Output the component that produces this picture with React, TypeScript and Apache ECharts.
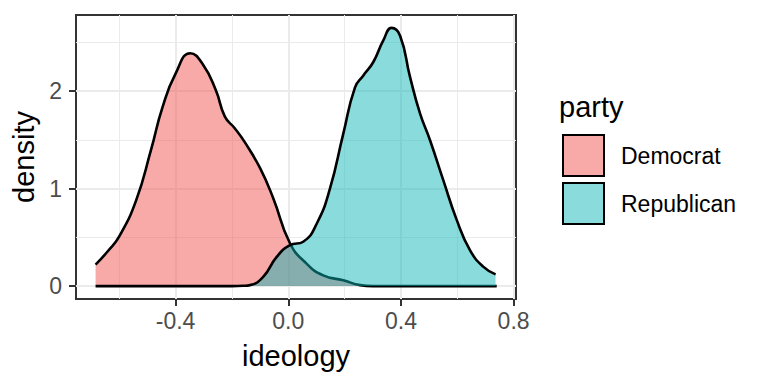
import React, { useEffect, useRef } from "react";
import * as echarts from "echarts";

// Democrat density curve (ideology, density)
const demX = [-0.684, -0.64, -0.6, -0.54, -0.487, -0.446, -0.4, -0.348, -0.304, -0.257, -0.225, -0.19, -0.155, -0.1, -0.053, 0.006, 0.065, 0.124, 0.195, 0.255, 0.3, 0.74];
const demY = [0.22, 0.36, 0.51, 0.88, 1.4, 1.84, 2.18, 2.39, 2.28, 2.01, 1.74, 1.62, 1.48, 1.21, 0.9, 0.44, 0.23, 0.11, 0.06, 0.01, 0.0, 0.0];

// Republican density curve
const repX = [-0.684, -0.2, -0.16, -0.136, -0.089, -0.041, 0.006, 0.053, 0.101, 0.148, 0.195, 0.237, 0.266, 0.302, 0.337, 0.367, 0.397, 0.432, 0.468, 0.503, 0.55, 0.598, 0.645, 0.692, 0.736];
const repY = [0.0, 0.0, 0.003, 0.01, 0.095, 0.3, 0.42, 0.455, 0.64, 1.0, 1.56, 2.04, 2.16, 2.3, 2.52, 2.65, 2.57, 2.15, 1.77, 1.5, 1.09, 0.68, 0.37, 0.2, 0.12];

const parties = ["Democrat", "Republican"];
const xMajor = [-0.4, 0, 0.4, 0.8];
const xMinor = [-0.6, -0.2, 0.2, 0.6];
const yMajor = [0, 1, 2];
const yMinor = [0.5, 1.5, 2.5];

const FONT = "'Liberation Sans', Arial, Helvetica, sans-serif";
const demFill = "rgba(240,92,88,0.52)";
const repFill = "rgba(10,180,182,0.48)";

export default function App() {
  const ref = useRef<HTMLDivElement>(null);
  useEffect(() => {
    if (!ref.current) return;
    const chart = echarts.init(ref.current, null, { renderer: "svg" });
    const xMin = -0.7535;
    const xMax = 0.8085;
    const yMin = -0.1325;
    const yMax = 2.7825;
    const tickLabel = { color: "#4D4D4D", fontSize: 23, fontFamily: FONT };
    chart.setOption({
      animation: false,
      textStyle: { fontFamily: FONT },
      title: {
        text: "party",
        left: 559,
        top: 92,
        padding: 0,
        textStyle: { fontSize: 29, fontWeight: "normal", color: "#000", fontFamily: FONT },
      },
      legend: {
        orient: "vertical",
        left: 562,
        top: 134,
        padding: 0,
        itemWidth: 41,
        itemHeight: 41,
        itemGap: 5,
        selectedMode: false,
        icon: "rect",
        textStyle: { fontSize: 23, color: "#000", fontFamily: FONT, padding: [0, 0, 0, 12] },
        data: [
          { name: parties[0], itemStyle: { color: demFill, borderColor: "#000", borderWidth: 2 } },
          { name: parties[1], itemStyle: { color: repFill, borderColor: "#000", borderWidth: 2 } },
        ],
      },
      grid: {
        left: 76,
        right: 252,
        top: 15,
        bottom: 85,
        show: true,
        borderColor: "#333333",
        borderWidth: 2,
        backgroundColor: "transparent",
      },
      xAxis: [
        {
          type: "value",
          min: xMin,
          max: xMax,
          name: "ideology",
          nameLocation: "middle",
          nameGap: 42,
          nameTextStyle: { fontSize: 29, color: "#000", fontFamily: FONT },
          axisLine: { show: false, onZero: false },
          axisTick: { show: true, length: 7, customValues: xMajor, lineStyle: { color: "#333333", width: 2 } },
          axisLabel: { ...tickLabel, margin: 10, customValues: xMajor, formatter: (v: number) => v.toFixed(1) },
          splitLine: { show: true, lineStyle: { color: "#EBEBEB", width: 2 } },
          z: 1,
        },
        {
          type: "value",
          min: xMin,
          max: xMax,
          position: "bottom",
          axisLine: { show: false, onZero: false },
          axisTick: { show: false, customValues: xMinor },
          axisLabel: { show: false, customValues: xMinor },
          splitLine: { show: true, lineStyle: { color: "#EBEBEB", width: 1 } },
          z: 0,
        },
      ],
      yAxis: [
        {
          type: "value",
          min: yMin,
          max: yMax,
          name: "density",
          nameLocation: "middle",
          nameGap: 36,
          nameTextStyle: { fontSize: 29, color: "#000", fontFamily: FONT },
          axisLine: { show: false, onZero: false },
          axisTick: { show: true, length: 7, customValues: yMajor, lineStyle: { color: "#333333", width: 2 } },
          axisLabel: { ...tickLabel, margin: 14, customValues: yMajor, formatter: (v: number) => String(v) },
          splitLine: { show: true, lineStyle: { color: "#EBEBEB", width: 2 } },
          z: 1,
        },
        {
          type: "value",
          min: yMin,
          max: yMax,
          position: "left",
          axisLine: { show: false, onZero: false },
          axisTick: { show: false, customValues: yMinor },
          axisLabel: { show: false, customValues: yMinor },
          splitLine: { show: true, lineStyle: { color: "#EBEBEB", width: 1 } },
          z: 0,
        },
      ],
      series: [
        {
          name: parties[0],
          type: "line",
          xAxisIndex: 0,
          yAxisIndex: 0,
          data: demX.map((x, i) => [x, demY[i]]),
          smooth: 0.5,
          showSymbol: false,
          symbol: "none",
          silent: true,
          itemStyle: { color: demFill },
          lineStyle: { color: "#000", width: 2.6 },
          areaStyle: { color: demFill, opacity: 1 },
          z: 2,
        },
        {
          name: parties[1],
          type: "line",
          xAxisIndex: 0,
          yAxisIndex: 0,
          data: repX.map((x, i) => [x, repY[i]]),
          smooth: 0.5,
          showSymbol: false,
          symbol: "none",
          silent: true,
          itemStyle: { color: repFill },
          lineStyle: { color: "#000", width: 2.6 },
          areaStyle: { color: repFill, opacity: 1 },
          z: 3,
        },
      ],
    });
    return () => chart.dispose();
  }, []);
  return <div ref={ref} style={{ width: 768, height: 384, position: "fixed", left: 0, top: 0, background: "#fff" }} />;
}
